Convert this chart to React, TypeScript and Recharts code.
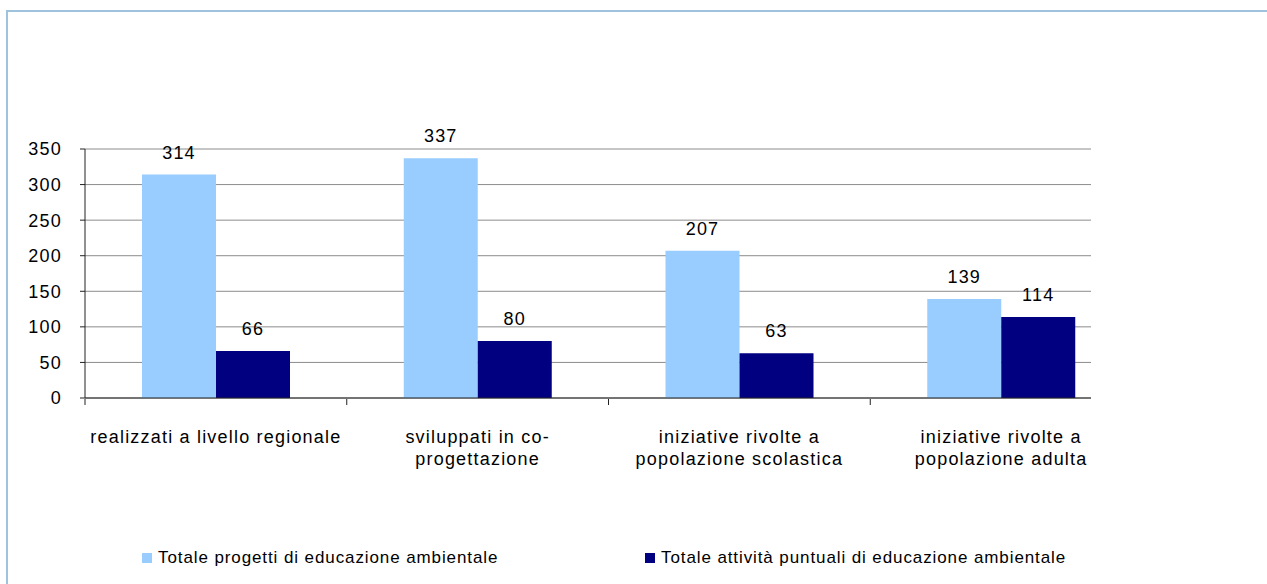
import React from 'react'
import { Bar, BarChart, CartesianGrid, LabelList, Legend, XAxis, YAxis } from 'recharts'

const categories = [
  'realizzati a livello regionale',
  'sviluppati in co-progettazione',
  'iniziative rivolte a popolazione scolastica',
  'iniziative rivolte a popolazione adulta',
]

// how the category names break on the axis
const tickLines = [
  ['realizzati a livello regionale'],
  ['sviluppati in co-', 'progettazione'],
  ['iniziative rivolte a', 'popolazione scolastica'],
  ['iniziative rivolte a', 'popolazione adulta'],
]

const progetti = [314, 337, 207, 139]
const attivita = [66, 80, 63, 114]

const yTicks = [0, 50, 100, 150, 200, 250, 300, 350]

const seriesNames = [
  'Totale progetti di educazione ambientale',
  'Totale attività puntuali di educazione ambientale',
]

const data = categories.map((name, i) => ({
  name,
  progetti: progetti[i],
  attivita: attivita[i],
}))

const FONT = 'Arial, "Liberation Sans", sans-serif'

// tick marks sit on the category boundaries, labels in the middle
function CategoryTick({ x, y, payload }: any) {
  const lines = tickLines[payload.index] ?? [payload.value]
  const half = payload.offset || 130.9
  return (
    <g>
      <line x1={x - half} x2={x - half} y1={y - 7} y2={y - 1} stroke="#222" />
      <text x={x} y={y} textAnchor="middle" fill="#000" fontSize={18} fontFamily={FONT} letterSpacing={1.2}>
        {lines.map((line, i) => (
          <tspan key={i} x={x} dy={i === 0 ? 37 : 22}>
            {line}
          </tspan>
        ))}
      </text>
    </g>
  )
}

function LegendContent({ payload }: any) {
  const lefts = [142, 645]
  const items = seriesNames.map((n) => (payload || []).find((p: any) => p.value === n)).filter(Boolean)
  return (
    <div style={{ position: 'relative', height: 20, marginTop: 40 }}>
      {items.map((item: any, i: number) => (
        <div
          key={i}
          style={{
            position: 'absolute',
            left: lefts[i],
            top: 0,
            display: 'flex',
            alignItems: 'center',
            fontFamily: FONT,
            fontSize: 17,
            letterSpacing: 0.9,
            color: '#000',
            whiteSpace: 'nowrap',
          }}
        >
          <span style={{ width: 10, height: 10, background: item.color, marginRight: 6, display: 'inline-block' }} />
          {item.value}
        </div>
      ))}
    </div>
  )
}

export default function App() {
  return (
    <div style={{ position: 'absolute', left: 0, top: 0, width: 1267, height: 584, overflow: 'hidden', background: '#fff' }}>
      <div
        style={{
          position: 'absolute',
          left: 6,
          top: 10,
          width: 1400,
          height: 700,
          border: '2px solid #9fc3dd',
        }}
      />
      <div style={{ position: 'absolute', left: 0, top: 0, width: 1091, height: 584, overflow: 'hidden' }}>
        <BarChart
          width={1200}
          height={584}
          data={data}
          margin={{ top: 149, right: 68, bottom: 0, left: 0 }}
          barCategoryGap={57}
          barGap={0}
        >
          <CartesianGrid vertical={false} stroke="#8c8c8c" />
          <XAxis
            dataKey="name"
            interval={0}
            height={110}
            tick={<CategoryTick />}
            tickLine={false}
            tickSize={6}
            stroke="#222"
          />
          <YAxis
            width={85}
            domain={[0, 350]}
            ticks={yTicks}
            tickSize={5}
            tickMargin={18}
            stroke="#222"
            tick={{ fill: '#000', fontSize: 18, fontFamily: FONT, letterSpacing: 1.2 }}
          />
          <Legend verticalAlign="bottom" height={76} content={<LegendContent />} />
          <Bar dataKey="progetti" name={seriesNames[0]} fill="#99ccff" isAnimationActive={false}>
            <LabelList dataKey="progetti" position="top" offset={16} fill="#000" fontSize={18} fontFamily={FONT} letterSpacing={1.2} />
          </Bar>
          <Bar dataKey="attivita" name={seriesNames[1]} fill="#000080" isAnimationActive={false}>
            <LabelList dataKey="attivita" position="top" offset={16} fill="#000" fontSize={18} fontFamily={FONT} letterSpacing={1.2} />
          </Bar>
        </BarChart>
      </div>
    </div>
  )
}
